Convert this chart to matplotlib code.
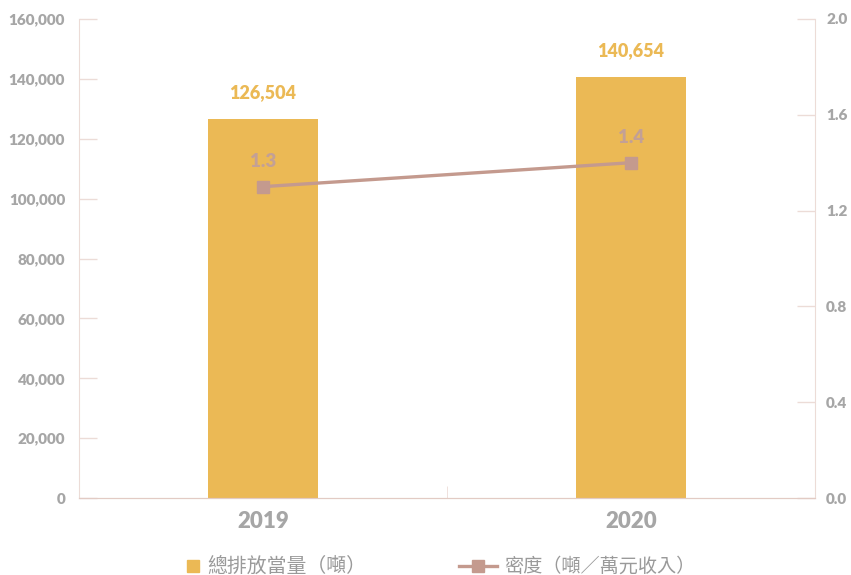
import matplotlib
matplotlib.use("Agg")
import matplotlib.pyplot as plt
from matplotlib.lines import Line2D
from matplotlib.ticker import FuncFormatter

years = ["2019", "2020"]
emissions = [126504, 140654]
intensity = [1.3, 1.4]
bar_label = "總排放當量（噸）"
line_label = "密度（噸／萬元收入）"

bar_color = "#ebb955"
line_color = "#c49a8e"
tick_color = "#a6a6a6"
axis_color = "#ecdcd7"
W = "heavy"

fig = plt.figure(figsize=(8.51, 5.75), dpi=100)
ax = fig.add_axes([79/851, 1-498/575, (815-79)/851, (498-19)/575])
ax2 = ax.twinx()

x = list(range(len(years)))
ax.bar(x, emissions, width=0.30, color=bar_color, zorder=2)
ax.set_xlim(-0.5, 1.5)
ax.set_ylim(0, 160000)
ax.set_yticks(range(0, 160001, 20000))
ax.yaxis.set_major_formatter(FuncFormatter(lambda v, p: f"{int(v):,}"))

ax2.plot(x, intensity, color=line_color, lw=2.4, marker="s", markersize=9, zorder=3)
ax2.set_ylim(0, 2.0)
ax2.set_yticks([0.0, 0.4, 0.8, 1.2, 1.6, 2.0])
ax2.yaxis.set_major_formatter(FuncFormatter(lambda v, p: f"{v:.1f}"))

for a in (ax, ax2):
    a.spines["top"].set_visible(False)
    a.spines["left"].set_color(axis_color)
    a.spines["right"].set_color(axis_color)
    a.spines["bottom"].set_color("#e2cbc4")
    a.set_facecolor("none")

ax.spines["right"].set_visible(False)
ax2.spines["left"].set_visible(False)

ax.tick_params(axis="y", direction="in", length=13, width=1, color=axis_color,
               labelcolor=tick_color, pad=10)
ax2.tick_params(axis="y", direction="in", length=13, width=1, color=axis_color,
                labelcolor=tick_color, pad=8)
ax.set_xticks(x)
ax.set_xticklabels(years)
ax.tick_params(axis="x", length=0, labelcolor=tick_color, pad=9)
ax.set_xticks([0.5], minor=True)
ax.tick_params(axis="x", which="minor", direction="in", length=9, color=axis_color)

for lab in ax.get_yticklabels() + ax2.get_yticklabels():
    lab.set_fontfamily("Lato")
    lab.set_fontweight(W)
    lab.set_fontsize(11)
for lab in ax.get_xticklabels():
    lab.set_fontfamily("Lato")
    lab.set_fontweight(W)
    lab.set_fontsize(16)

for xi, v in zip(x, emissions):
    ax.annotate(f"{v:,}", (xi, v), xytext=(0, 19), textcoords="offset points",
                ha="center", va="center", color=bar_color, fontsize=13,
                fontweight=W, family="Lato")
for xi, v in zip(x, intensity):
    ax2.annotate(f"{v:.1f}", (xi, v), xytext=(0, 18), textcoords="offset points",
                 ha="center", va="center", color="#c3a096", fontsize=13.5,
                 fontweight=W, family="Lato")

# legend (manual layout in figure coordinates)
ly = 1 - 566/575
cjk = ["Noto Sans CJK TC", "DejaVu Sans"]
fig.add_artist(Line2D([193/851], [ly], transform=fig.transFigure, color=bar_color,
                      marker="s", markersize=9, linestyle="none"))
fig.text(207/851, ly, bar_label, ha="left", va="center", color="#9a9a9a",
         fontsize=14.3, family=cjk, fontweight="light")
fig.add_artist(Line2D([459/851, 497/851], [ly, ly], transform=fig.transFigure,
                      color=line_color, lw=2.4))
fig.add_artist(Line2D([478/851], [ly], transform=fig.transFigure, color=line_color,
                      marker="s", markersize=9, linestyle="none"))
fig.text(504/851, ly, line_label, ha="left", va="center", color="#9a9a9a",
         fontsize=13.8, family=cjk, fontweight="light")

fig.savefig("out.png", dpi=100)
